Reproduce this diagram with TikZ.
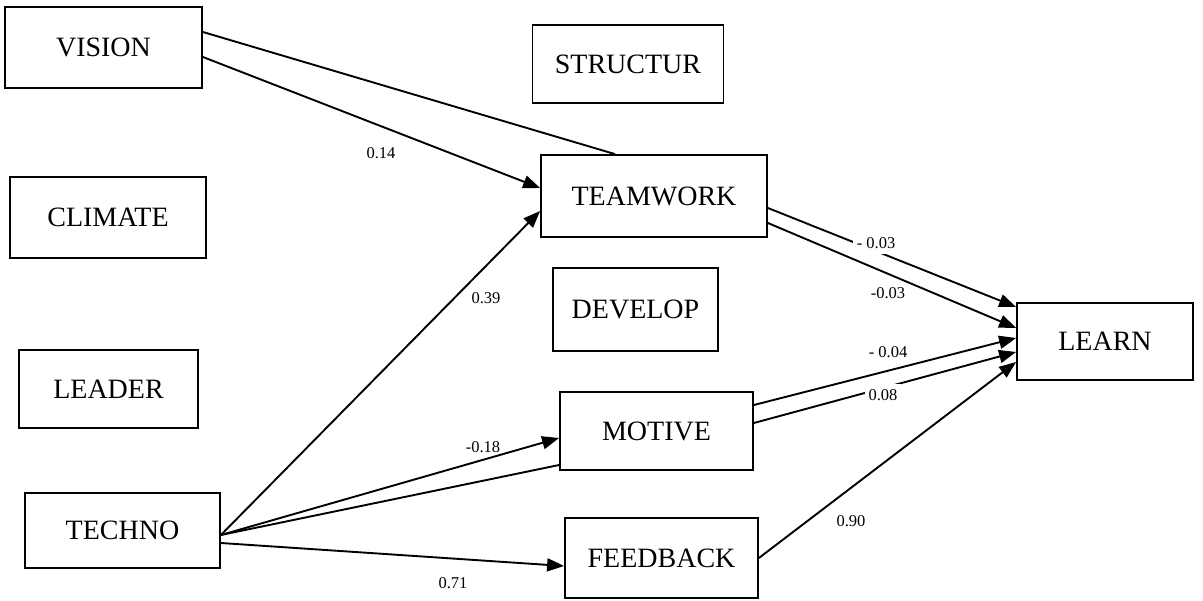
\documentclass[tikz,border=0pt]{standalone}
\usepackage{fontspec}
\setmainfont{Liberation Serif}
\usetikzlibrary{arrows.meta}
\begin{document}
\begin{tikzpicture}[x=1pt,y=-1pt,
  var/.style={draw, line width=1.8pt, inner sep=0pt, font=\fontsize{28}{30}\selectfont},
  conn/.style={line width=1.9pt},
  arr/.style={conn, -{Triangle[length=17pt,width=13pt]}},
  coef/.style={font=\fontsize{16.5}{18}\selectfont, inner sep=1pt},
  gapcoef/.style={coef, fill=white, inner xsep=4pt, inner ysep=5pt}]
\useasboundingbox (0,0) rectangle (1203,601);

% latent variables
\node[var, minimum width=197pt, minimum height=81pt] (vision)   at (103.5,47.5) {VISION};
\node[var, minimum width=191pt, minimum height=78pt] (structur) at (628,64)     {STRUCTUR};
\node[var, minimum width=196pt, minimum height=81pt] (climate)  at (108,217.5)  {CLIMATE};
\node[var, minimum width=226pt, minimum height=82pt] (teamwork) at (654,196)    {TEAMWORK};
\node[var, minimum width=165pt, minimum height=83pt] (develop)  at (635.5,309.5){DEVELOP};
\node[var, minimum width=176pt, minimum height=77pt] (learn)    at (1105,341.5) {LEARN};
\node[var, minimum width=179pt, minimum height=78pt] (leader)   at (108.5,389)  {LEADER};
\node[var, minimum width=193pt, minimum height=78pt] (motive)   at (656.5,431)  {MOTIVE};
\node[var, minimum width=195pt, minimum height=75pt] (techno)   at (122.5,530.5){TECHNO};
\node[var, minimum width=193pt, minimum height=80pt] (feedback) at (661.5,558)   {FEEDBACK};

% paths into TEAMWORK
\draw[conn] ([yshift=15.5pt]vision.east) -- ([xshift=-39pt]teamwork.north);
\draw[arr]  ([yshift=-9.5pt]vision.east) -- ([yshift=8pt]teamwork.west);
\draw[arr]  ([yshift=-4.5pt]techno.east) -- ([yshift=-15pt]teamwork.west);

% paths out of TECHNO
\draw[arr]  ([yshift=-4.5pt]techno.east) -- ([yshift=-7pt]motive.west);
\draw[conn] ([yshift=-34pt]motive.west) -- ([yshift=-4.5pt]techno.east);
\draw[arr]  ([yshift=-12.5pt]techno.east) -- ([yshift=-8pt]feedback.west);

% paths into LEARN
\draw[arr]  ([yshift=-12pt]teamwork.east) -- ([yshift=34.5pt]learn.west);
\draw[arr]  ([yshift=-27pt]teamwork.east) -- ([yshift=13.5pt]learn.west);
\draw[arr]  ([yshift=26pt]motive.east) -- ([yshift=3.5pt]learn.west);
\draw[arr]  ([yshift=8pt]motive.east) -- ([yshift=-10.5pt]learn.west);
\draw[arr]  (feedback.east) -- ([yshift=-20.5pt]learn.west);

% path coefficients
\node[coef] (c1) at (381,153) {0.14};
\node[coef] (c2) at (486,298) {0.39};
\node[coef] (c3) at (483,447) {-0.18};
\node[coef] (c4) at (453,583) {0.71};
\node[gapcoef] (c5) at (876,243) {- 0.03};
\node[coef] (c6) at (888,293) {-0.03};
\node[coef] (c7) at (888,352) {- 0.04};
\node[gapcoef] (c8) at (883,395) {0.08};
\node[coef] (c9) at (851,521) {0.90};
\end{tikzpicture}
\end{document}
